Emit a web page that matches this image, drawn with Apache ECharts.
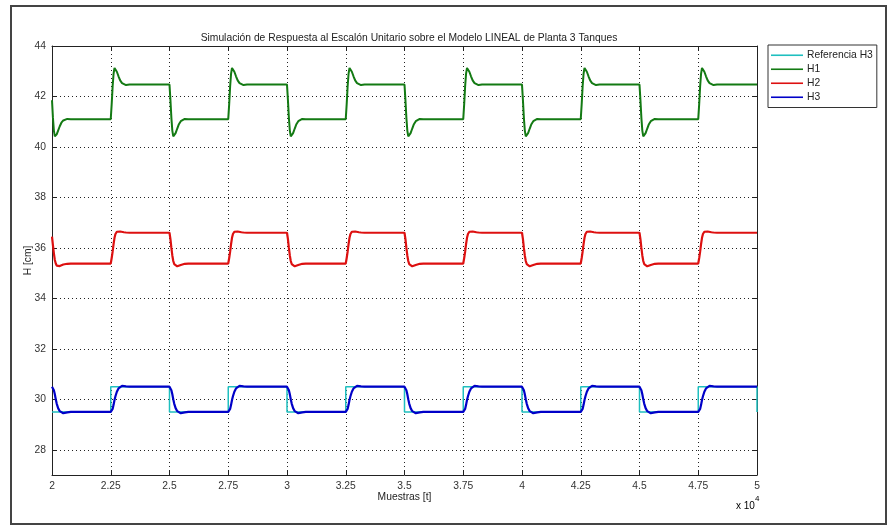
<!DOCTYPE html>
<html>
<head>
<meta charset="utf-8">
<script src="https://cdn.jsdelivr.net/npm/echarts@6/dist/echarts.min.js"></script>
<style>
html,body{margin:0;padding:0;background:#fff;}
#chart{width:888px;height:529px;}
</style>
</head>
<body>
<div id="chart"></div>
<script>
// Sample positions (x 10^4 samples), shared by H1, H2, H3
var samples = [
  2.000,2.004,2.008,2.012,2.016,2.020,2.026,2.033,2.040,2.048,2.056,2.065,2.080,
  2.250,2.254,2.258,2.262,2.266,2.270,2.276,2.283,2.290,2.298,2.306,2.315,2.330,
  2.500,2.504,2.508,2.512,2.516,2.520,2.526,2.533,2.540,2.548,2.556,2.565,2.580,
  2.750,2.754,2.758,2.762,2.766,2.770,2.776,2.783,2.790,2.798,2.806,2.815,2.830,
  3.000,3.004,3.008,3.012,3.016,3.020,3.026,3.033,3.040,3.048,3.056,3.065,3.080,
  3.250,3.254,3.258,3.262,3.266,3.270,3.276,3.283,3.290,3.298,3.306,3.315,3.330,
  3.500,3.504,3.508,3.512,3.516,3.520,3.526,3.533,3.540,3.548,3.556,3.565,3.580,
  3.750,3.754,3.758,3.762,3.766,3.770,3.776,3.783,3.790,3.798,3.806,3.815,3.830,
  4.000,4.004,4.008,4.012,4.016,4.020,4.026,4.033,4.040,4.048,4.056,4.065,4.080,
  4.250,4.254,4.258,4.262,4.266,4.270,4.276,4.283,4.290,4.298,4.306,4.315,4.330,
  4.500,4.504,4.508,4.512,4.516,4.520,4.526,4.533,4.540,4.548,4.556,4.565,4.580,
  4.750,4.754,4.758,4.762,4.766,4.770,4.776,4.783,4.790,4.798,4.806,4.815,4.830,
  5.000
];
var h1 = [
  41.85,41.15,40.65,40.42,40.42,40.50,40.65,40.82,40.96,41.05,41.10,41.11,41.10,
  41.10,41.70,42.40,42.90,43.13,43.12,42.98,42.80,42.64,42.53,42.47,42.45,42.47,
  42.47,41.85,41.15,40.65,40.42,40.42,40.55,40.73,40.90,41.02,41.09,41.11,41.10,
  41.10,41.70,42.40,42.90,43.13,43.12,42.98,42.80,42.64,42.53,42.47,42.45,42.47,
  42.47,41.85,41.15,40.65,40.42,40.42,40.55,40.73,40.90,41.02,41.09,41.11,41.10,
  41.10,41.70,42.40,42.90,43.13,43.12,42.98,42.80,42.64,42.53,42.47,42.45,42.47,
  42.47,41.85,41.15,40.65,40.42,40.42,40.55,40.73,40.90,41.02,41.09,41.11,41.10,
  41.10,41.70,42.40,42.90,43.13,43.12,42.98,42.80,42.64,42.53,42.47,42.45,42.47,
  42.47,41.85,41.15,40.65,40.42,40.42,40.55,40.73,40.90,41.02,41.09,41.11,41.10,
  41.10,41.70,42.40,42.90,43.13,43.12,42.98,42.80,42.64,42.53,42.47,42.45,42.47,
  42.47,41.85,41.15,40.65,40.42,40.42,40.55,40.73,40.90,41.02,41.09,41.11,41.10,
  41.10,41.70,42.40,42.90,43.13,43.12,42.98,42.80,42.64,42.53,42.47,42.45,42.47,
  42.47
];
var h2 = [
  36.45,36.10,35.78,35.52,35.38,35.30,35.27,35.28,35.31,35.34,35.36,35.37,35.38,
  35.38,35.60,35.85,36.15,36.40,36.55,36.64,36.66,36.65,36.63,36.62,36.61,36.60,
  36.60,36.35,36.00,35.70,35.48,35.36,35.30,35.27,35.29,35.32,35.35,35.37,35.38,
  35.38,35.60,35.85,36.15,36.40,36.55,36.64,36.66,36.65,36.63,36.62,36.61,36.60,
  36.60,36.35,36.00,35.70,35.48,35.36,35.30,35.27,35.29,35.32,35.35,35.37,35.38,
  35.38,35.60,35.85,36.15,36.40,36.55,36.64,36.66,36.65,36.63,36.62,36.61,36.60,
  36.60,36.35,36.00,35.70,35.48,35.36,35.30,35.27,35.29,35.32,35.35,35.37,35.38,
  35.38,35.60,35.85,36.15,36.40,36.55,36.64,36.66,36.65,36.63,36.62,36.61,36.60,
  36.60,36.35,36.00,35.70,35.48,35.36,35.30,35.27,35.29,35.32,35.35,35.37,35.38,
  35.38,35.60,35.85,36.15,36.40,36.55,36.64,36.66,36.65,36.63,36.62,36.61,36.60,
  36.60,36.35,36.00,35.70,35.48,35.36,35.30,35.27,35.29,35.32,35.35,35.37,35.38,
  35.38,35.60,35.85,36.15,36.40,36.55,36.64,36.66,36.65,36.63,36.62,36.61,36.60,
  36.60
];
var h3 = [
  30.50,30.47,30.36,30.20,30.00,29.83,29.65,29.53,29.47,29.45,29.46,29.48,29.50,
  29.50,29.52,29.62,29.78,29.97,30.12,30.30,30.43,30.50,30.53,30.53,30.51,30.50,
  30.50,30.47,30.36,30.20,30.00,29.83,29.65,29.53,29.47,29.45,29.46,29.48,29.50,
  29.50,29.52,29.62,29.78,29.97,30.12,30.30,30.43,30.50,30.53,30.53,30.51,30.50,
  30.50,30.47,30.36,30.20,30.00,29.83,29.65,29.53,29.47,29.45,29.46,29.48,29.50,
  29.50,29.52,29.62,29.78,29.97,30.12,30.30,30.43,30.50,30.53,30.53,30.51,30.50,
  30.50,30.47,30.36,30.20,30.00,29.83,29.65,29.53,29.47,29.45,29.46,29.48,29.50,
  29.50,29.52,29.62,29.78,29.97,30.12,30.30,30.43,30.50,30.53,30.53,30.51,30.50,
  30.50,30.47,30.36,30.20,30.00,29.83,29.65,29.53,29.47,29.45,29.46,29.48,29.50,
  29.50,29.52,29.62,29.78,29.97,30.12,30.30,30.43,30.50,30.53,30.53,30.51,30.50,
  30.50,30.47,30.36,30.20,30.00,29.83,29.65,29.53,29.47,29.45,29.46,29.48,29.50,
  29.50,29.52,29.62,29.78,29.97,30.12,30.30,30.43,30.50,30.53,30.53,30.51,30.50,
  30.50
];
// Reference square wave
var refX = [2.00,2.25,2.25,2.50,2.50,2.75,2.75,3.00,3.00,3.25,3.25,3.50,3.50,3.75,3.75,4.00,4.00,4.25,4.25,4.50,4.50,4.75,4.75,5.00,5.00];
var refY = [29.5,29.5,30.5,30.5,29.5,29.5,30.5,30.5,29.5,29.5,30.5,30.5,29.5,29.5,30.5,30.5,29.5,29.5,30.5,30.5,29.5,29.5,30.5,30.5,29.5];

var seriesNames = ['Referencia H3','H1','H2','H3'];
var seriesColors = ['#1fbfbf','#137a13','#dd1010','#0000c8'];
var xTicks = [2,2.25,2.5,2.75,3,3.25,3.5,3.75,4,4.25,4.5,4.75,5];
var yTicks = [28,30,32,34,36,38,40,42,44];

var titleText = 'Simulación de Respuesta al Escalón Unitario sobre el Modelo LINEAL de Planta 3 Tanques';
var xName = 'Muestras [t]';
var yName = 'H [cm]';

function pairs(xs, ys){ return xs.map(function(x,i){ return [x, ys[i]]; }); }

var FONT = 'Liberation Sans, Arial, sans-serif';
var FS = 10.3;
var chart = echarts.init(document.getElementById('chart'), null, {renderer:'canvas'});

var axisCommon = {
  type:'value',
  axisLine:{show:true,lineStyle:{color:'#222',width:1}},
  axisTick:{show:true,inside:true,length:5,lineStyle:{color:'#222'}},
  axisLabel:{show:false},
  splitLine:{show:false}
};

chart.setOption({
  backgroundColor:'#fff',
  animation:false,
  title:{
    text:titleText,
    left:404, top:28, textAlign:'center',
    textStyle:{fontFamily:FONT,fontSize:FS,fontWeight:'normal',color:'#222'}
  },
  legend:{
    data:seriesNames,
    orient:'vertical',
    left:768, top:45,
    icon:'rect',
    itemWidth:32, itemHeight:1.6,
    itemGap:1.5,
    padding:[4,4,4,3],
    borderColor:'#333', borderWidth:1,
    backgroundColor:'#fff',
    textStyle:{fontFamily:FONT,fontSize:FS,color:'#222',lineHeight:12.5,padding:[0,0,0,-1]}
  },
  grid:{left:52,right:131,top:46,bottom:54,containLabel:false},
  xAxis:[
    {
      type:'value', min:2, max:5, interval:0.25, position:'bottom',
      name:xName, nameLocation:'middle', nameGap:17, nameMoveOverlap:false,
      nameTextStyle:{fontFamily:FONT,fontSize:FS,color:'#222'},
      axisLine:{show:true,lineStyle:{color:'#222',width:1}},
      axisTick:{show:true,inside:true,length:5,lineStyle:{color:'#222'}},
      axisLabel:{fontFamily:FONT,fontSize:FS,color:'#333',margin:6,
        formatter:function(v){ return xTicks.indexOf(v)>=0 ? String(v) : ''; }},
      splitLine:{show:true,lineStyle:{color:'#222',width:1,type:[1,3]}}
    },
    Object.assign({}, axisCommon, {min:2,max:5,interval:0.25,position:'top'})
  ],
  yAxis:[
    {
      type:'value', min:27, max:44, interval:2, position:'left',
      name:yName, nameLocation:'middle', nameGap:19, nameRotate:90, nameMoveOverlap:false,
      nameTextStyle:{fontFamily:FONT,fontSize:FS,color:'#222'},
      axisLine:{show:true,lineStyle:{color:'#222',width:1}},
      axisTick:{show:true,inside:true,length:5,lineStyle:{color:'#222'},
        customValues:yTicks},
      axisLabel:{fontFamily:FONT,fontSize:FS,color:'#333',margin:6,
        customValues:yTicks},
      splitLine:{show:true,lineStyle:{color:'#222',width:1,type:[1,3]}}
    },
    Object.assign({}, axisCommon, {min:27,max:44,interval:2,position:'right',
      axisTick:{show:true,inside:true,length:5,lineStyle:{color:'#222'},customValues:yTicks}})
  ],
  graphic:[
    {type:'rect',shape:{x:11,y:6,width:875,height:518},
     style:{fill:null,stroke:'#444',lineWidth:2},silent:true,z:-10},
    {type:'text',left:736,top:495,
     style:{text:'{a|x 10}{b|4}',rich:{
       a:{fontFamily:FONT,fontSize:10,color:'#333',verticalAlign:'bottom'},
       b:{fontFamily:FONT,fontSize:8,color:'#333',verticalAlign:'top',padding:[0,0,8,0]}}}}
  ],
  series:[
    {name:seriesNames[0],type:'line',data:pairs(refX,refY),showSymbol:false,
     lineStyle:{color:seriesColors[0],width:1.5},itemStyle:{color:seriesColors[0]},z:2},
    {name:seriesNames[1],type:'line',data:pairs(samples,h1),showSymbol:false,
     lineStyle:{color:seriesColors[1],width:2},itemStyle:{color:seriesColors[1]},z:3},
    {name:seriesNames[2],type:'line',data:pairs(samples,h2),showSymbol:false,
     lineStyle:{color:seriesColors[2],width:2.2},itemStyle:{color:seriesColors[2]},z:4},
    {name:seriesNames[3],type:'line',data:pairs(samples,h3),showSymbol:false,
     lineStyle:{color:seriesColors[3],width:2.2},itemStyle:{color:seriesColors[3]},z:5}
  ]
});
</script>
</body>
</html>
